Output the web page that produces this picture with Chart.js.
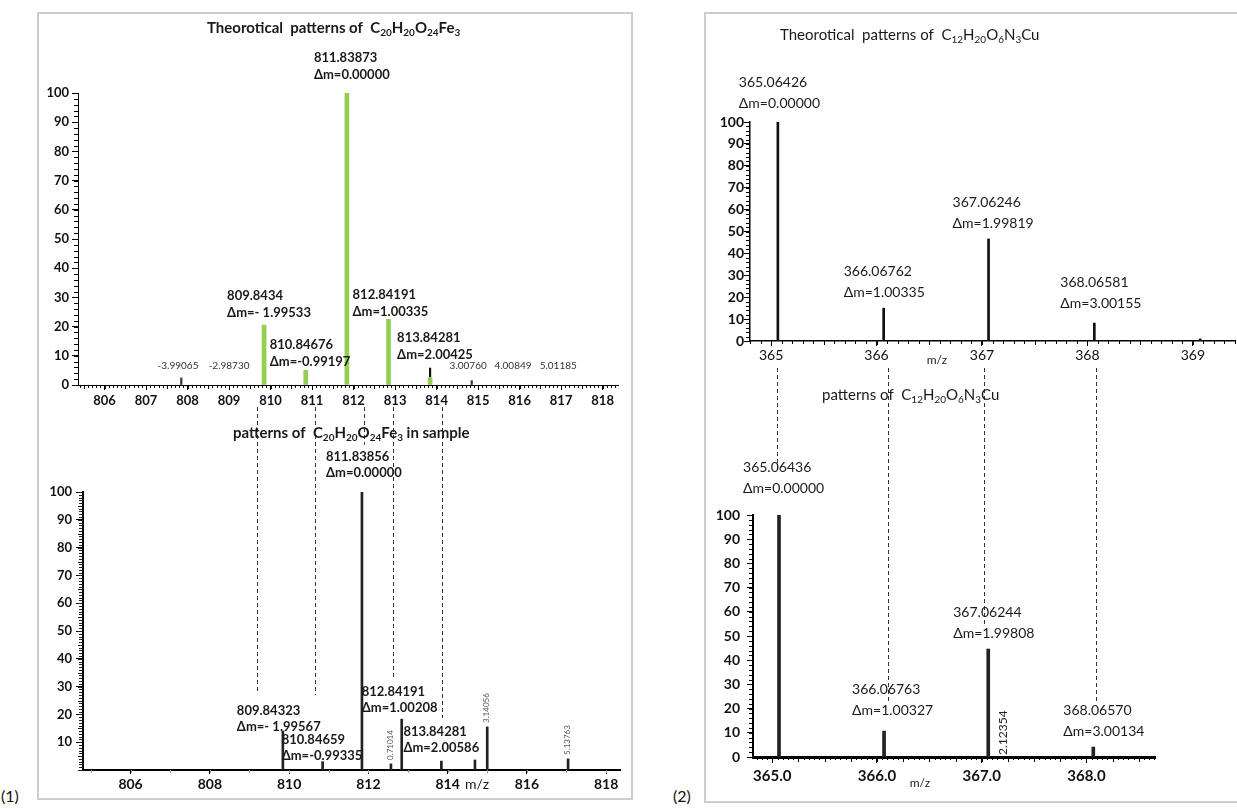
<!DOCTYPE html>
<html>
<head>
<meta charset="utf-8">
<title>Isotope patterns</title>
<script src="https://cdn.jsdelivr.net/npm/chart.js@4.4.1/dist/chart.umd.min.js"></script>
<style>
  body { margin: 0; width: 1237px; height: 809px; overflow: hidden; position: relative; background: #fff; font-family: Lato, 'Open Sans', sans-serif; }
  .frame { position: absolute; border: 2px solid #cdcdcd; box-sizing: border-box; }
  .tag { position: absolute; font-size: 16px; color: #111; }
  canvas { position: absolute; }
</style>
</head>
<body>
<div class="frame" style="left:37px; top:12px; width:596px; height:788px;"></div>
<div class="frame" style="left:704px; top:12px; width:540px; height:791px;"></div>
<div class="tag" style="left:1px; top:786px;">(1)</div>
<div class="tag" style="left:673px; top:786px;">(2)</div>
<canvas id="tl" width="584" height="401" style="left:38px; top:14px;"></canvas>
<canvas id="bl" width="584" height="398" style="left:38px; top:400px;"></canvas>
<canvas id="tr" width="531" height="357" style="left:706px; top:14px;"></canvas>
<canvas id="br" width="531" height="438" style="left:706px; top:362px;"></canvas>
<script>
// (1) theoretical pattern of C20H20O24Fe3
var mzTL = [809.8434, 810.84676, 811.83873, 812.84191, 813.84281];
var intTL = [20.5, 5, 100, 22.5, 2.5];
var massTL = ['809.8434', '810.84676', '811.83873', '812.84191', '813.84281'];
var dmTL = ['Δm=- 1.99533', 'Δm=-0.99197', 'Δm=0.00000', 'Δm=1.00335', 'Δm=2.00425'];
var tinyMzTL = [807.848, 814.846];
var tinyIntTL = [2.4, 1.5];
var markMzTL = [813.84281];
var markIntTL = [[2.7, 5.8]];
// where the small mass-difference notes sit on the m/z axis
var sideAtTL = [807.77, 809.0, 814.76, 815.84, 816.93];
var sideDmTL = ['-3.99065', '-2.98730', '3.00760', '4.00849', '5.01185'];
var xTicksTL = [806, 807, 808, 809, 810, 811, 812, 813, 814, 815, 816, 817, 818];
var yTicksTL = [0, 10, 20, 30, 40, 50, 60, 70, 80, 90, 100];

// (1) pattern found in sample
var mzBL = [809.84323, 810.84659, 811.83856, 812.84191, 813.84281];
var intBL = [14, 3, 100, 18.3, 3.2];
var massBL = ['809.84323', '810.84659', '811.83856', '812.84191', '813.84281'];
var dmBL = ['Δm=- 1.99567', 'Δm=-0.99335', 'Δm=0.00000', 'Δm=1.00208', 'Δm=2.00586'];
var otherMzBL = [812.57, 814.69, 815.0, 817.04];
var otherIntBL = [2.2, 3.6, 15.5, 4];
var otherDmBL = ['0.71014', '', '3.14056', '5.13763'];
var xTicksBL = [806, 808, 810, 812, 814, 816, 818];
var yTicksBL = [10, 20, 30, 40, 50, 60, 70, 80, 90, 100];
var guideMzL = [809.2, 810.65, 811.9, 812.62, 813.86];
var guideEndL = [27.7, 27, 117, 32.4, 18.7];

// (2) theoretical pattern of C12H20O6N3Cu
var mzTR = [365.06426, 366.06762, 367.06246, 368.06581, 369.07];
var intTR = [100, 15, 46.6, 8.2, 1];
var massTR = ['365.06426', '366.06762', '367.06246', '368.06581'];
var dmTR = ['Δm=0.00000', 'Δm=1.00335', 'Δm=1.99819', 'Δm=3.00155'];
var xTicksTR = [365, 366, 367, 368, 369];
var yTicksTR = [0, 10, 20, 30, 40, 50, 60, 70, 80, 90, 100];

// (2) pattern found in sample
var mzBR = [365.06436, 366.06763, 367.06244, 368.0657];
var intBR = [100, 10.7, 44.6, 4.1];
var massBR = ['365.06436', '366.06763', '367.06244', '368.06570'];
var dmBR = ['Δm=0.00000', 'Δm=1.00327', 'Δm=1.99808', 'Δm=3.00134'];
var extraMzBR = [367.2];
var extraDmBR = ['2.12354'];
var xTicksBR = [365, 366, 367, 368];
var yTicksBR = [0, 10, 20, 30, 40, 50, 60, 70, 80, 90, 100];
var guideMzR = [365.045, 366.105, 367.02, 368.09];
var guideEndR = [118.6, 22.3, 54.5, 22.7];

var FONT = "Lato, 'Open Sans', sans-serif";

// label placement: [offset from peak in px, page y of first line]
var posTL = [[-37, 296], [-36, 345], [-33, 58], [-36, 295], [-33, 338]];
var posBL = [[-46, 711], [-41, 740], [-36, 457], [-40, 692], [-38, 732]];
var posTR = [[-39, 82], [-40, 271], [-36, 202], [-34, 282]];
var posBR = [[-36, 467], [-32, 689], [-35, 612], [-30, 710]];

function pts(xs, ys) {
  return xs.map(function (x, i) { return { x: x, y: ys[i] }; });
}

// draws text with {..} parts as subscripts
function drawSub(ctx, text, x, y, size, weight) {
  var parts = text.split(/(\{[^}]*\})/);
  var cx = x;
  ctx.textBaseline = 'middle';
  ctx.textAlign = 'left';
  parts.forEach(function (p) {
    if (!p) return;
    var sub = p[0] === '{';
    var t = sub ? p.slice(1, -1) : p;
    ctx.font = weight + ' ' + (sub ? Math.round(size * 0.68) : size) + 'px ' + FONT;
    ctx.fillText(t, cx, sub ? y + size * 0.3 : y);
    cx += ctx.measureText(t).width;
  });
  return cx;
}

// short ticks between the labelled ones
var minorTicks = {
  id: 'minorTicks',
  afterDraw: function (chart, args, o) {
    var ctx = chart.ctx, a = chart.chartArea;
    ctx.save();
    ctx.lineWidth = 1;
    ['x', 'y'].forEach(function (k) {
      var m = o[k];
      if (!m) return;
      var s = chart.scales[k];
      ctx.strokeStyle = m.color || '#000';
      var n0 = Math.ceil(s.min / m.step - 1e-6), n1 = Math.floor(s.max / m.step + 1e-6);
      for (var n = n0; n <= n1; n++) {
        var v = n * m.step;
        var len = m.len;
        if (m.mid && Math.abs(v / m.mid - Math.round(v / m.mid)) < 1e-6) len = m.midLen;
        var p = Math.round(s.getPixelForValue(v)) + 0.5;
        ctx.beginPath();
        if (k === 'x') { ctx.moveTo(p, a.bottom); ctx.lineTo(p, a.bottom + len); }
        else { ctx.moveTo(a.left, p); ctx.lineTo(a.left - len, p); }
        ctx.stroke();
      }
    });
    ctx.restore();
  }
};

// titles, peak labels and dashed guides
var notes = {
  id: 'notes',
  afterDatasetsDraw: function (chart, args, o) {
    var ctx = chart.ctx, xs = chart.scales.x, ys = chart.scales.y;
    var L = o.left, T = o.top;
    ctx.save();
    ctx.fillStyle = '#1a1a1a';
    if (o.guides) {
      ctx.strokeStyle = '#333';
      ctx.lineWidth = 1;
      ctx.setLineDash([4, 3]);
      o.guides.mz.forEach(function (m, i) {
        var x = Math.round(xs.getPixelForValue(m)) + 0.5;
        ctx.beginPath();
        ctx.moveTo(x, o.guides.from - T);
        ctx.lineTo(x, ys.getPixelForValue(o.guides.end[i]));
        ctx.stroke();
      });
      ctx.setLineDash([]);
    }
    if (o.title) drawSub(ctx, o.title.text, o.title.x - L, o.title.y - T, o.title.size, o.title.weight);
    if (o.axisName) {
      ctx.font = o.axisName.size + 'px ' + FONT;
      ctx.textAlign = 'center';
      ctx.textBaseline = 'middle';
      ctx.fillText('m/z', o.axisName.x - L, o.axisName.y - T);
    }
    var pk = o.peaks;
    ctx.textAlign = 'left';
    ctx.textBaseline = 'middle';
    ctx.font = pk.weight + ' ' + pk.size + 'px ' + FONT;
    pk.mass.forEach(function (t, i) {
      var x = xs.getPixelForValue(pk.mz[i]) + pk.pos[i][0];
      var y = pk.pos[i][1] - T;
      ctx.fillText(t, x, y);
      ctx.fillText(pk.dm[i], x, y + pk.gap);
    });
    if (o.side) {
      ctx.font = o.side.size + 'px ' + FONT;
      ctx.fillStyle = '#333';
      ctx.textAlign = 'center';
      o.side.mz.forEach(function (m, i) {
        ctx.fillText(o.side.text[i], xs.getPixelForValue(m), o.side.y - T);
      });
    }
    if (o.vert) {
      ctx.font = o.vert.size + 'px ' + FONT;
      ctx.fillStyle = o.vert.color;
      ctx.textAlign = 'left';
      ctx.textBaseline = 'middle';
      o.vert.mz.forEach(function (m, i) {
        if (!o.vert.text[i]) return;
        var base = o.vert.above ? ys.getPixelForValue(o.vert.val[i]) - 4 : ys.getPixelForValue(0) - 2;
        ctx.save();
        ctx.translate(xs.getPixelForValue(m) + o.vert.dx, base);
        ctx.rotate(-Math.PI / 2);
        ctx.fillText(o.vert.text[i], 0, 0);
        ctx.restore();
      });
    }
    ctx.restore();
  }
};

function fitAxis(w, h) {
  return function (axis) {
    if (w != null) axis.width = w;
    if (h != null) axis.height = h;
    axis.paddingTop = 0; axis.paddingBottom = 0;
    axis.paddingLeft = 0; axis.paddingRight = 0;
  };
}

function setTicks(list) {
  return function (axis) {
    axis.ticks = list.map(function (v) { return { value: v }; });
  };
}

function spectrum(id, c) {
  return new Chart(document.getElementById(id), {
    type: 'bar',
    data: { datasets: c.datasets },
    options: {
      responsive: false,
      animation: false,
      devicePixelRatio: 1,
      layout: { padding: { top: c.padTop, right: c.padRight, left: 0, bottom: 0 } },
      datasets: { bar: { grouped: false } },
      plugins: {
        legend: { display: false },
        tooltip: { enabled: false },
        minorTicks: c.minor,
        notes: c.notes
      },
      scales: {
        x: {
          type: 'linear', min: c.xMin, max: c.xMax, offset: false,
          grid: { drawOnChartArea: false, drawTicks: true, tickLength: c.xTickLen, color: '#000', offset: false },
          border: { color: '#000', width: c.xBorder },
          ticks: {
            autoSkip: false, maxRotation: 0, padding: c.xPad, color: '#111',
            font: { family: FONT, size: c.xFont, weight: c.xWeight },
            callback: c.xLabel || function (v) { return v; }
          },
          afterBuildTicks: setTicks(c.xTicks),
          afterFit: fitAxis(null, c.xAxisH)
        },
        y: {
          min: 0, max: 100,
          grid: { drawOnChartArea: false, drawTicks: true, tickLength: c.yTickLen, color: '#000' },
          border: { color: '#000', width: c.yBorder },
          ticks: {
            padding: c.yPad, color: '#111',
            font: { family: FONT, size: c.yFont, weight: c.yWeight }
          },
          afterBuildTicks: setTicks(c.yTicks),
          afterFit: fitAxis(c.yAxisW, null)
        }
      }
    },
    plugins: [minorTicks, notes]
  });
}

// (1) top
spectrum('tl', {
  padTop: 79, padRight: 4, yAxisW: 40, xAxisH: 30,
  xMin: 805.36, xMax: 818.37, xTicks: xTicksTL, yTicks: yTicksTL,
  xTickLen: 5, yTickLen: 6, xPad: 3, yPad: 3, xBorder: 1, yBorder: 1,
  xFont: 13, yFont: 13, xWeight: 'bold', yWeight: 'bold',
  minor: { x: { step: 0.1, len: 3, mid: 0.5, midLen: 4 }, y: { step: 2, len: 4 } },
  datasets: [
    { data: pts(mzTL, intTL), backgroundColor: '#92d050', barThickness: 4 },
    { data: pts(tinyMzTL, tinyIntTL), backgroundColor: '#333', barThickness: 1.5 },
    { data: pts(markMzTL, markIntTL), backgroundColor: '#111', barThickness: 1.5 }
  ],
  notes: {
    left: 38, top: 14,
    title: { text: 'Theorotical  patterns of  C{20}H{20}O{24}Fe{3}', x: 207, y: 28, size: 15, weight: 'bold' },
    peaks: { mz: mzTL, mass: massTL, dm: dmTL, pos: posTL, size: 13, weight: 'bold', gap: 17 },
    side: { mz: sideAtTL, text: sideDmTL, y: 366, size: 10 }
  }
});

// (1) bottom
spectrum('bl', {
  padTop: 92, padRight: 2, yAxisW: 45, xAxisH: 28,
  xMin: 804.8, xMax: 818.35, xTicks: xTicksBL, yTicks: yTicksBL,
  xTickLen: 4, yTickLen: 7, xPad: 2, yPad: 4, xBorder: 2, yBorder: 2,
  xFont: 14, yFont: 13, xWeight: 'bold', yWeight: 'bold',
  minor: { x: { step: 1, len: 3, color: '#999' }, y: { step: 1, len: 4, mid: 5, midLen: 5, color: '#222' } },
  datasets: [
    { data: pts(mzBL, intBL), backgroundColor: '#222', barThickness: 2 },
    { data: pts(otherMzBL, otherIntBL), backgroundColor: '#222', barThickness: 2 }
  ],
  notes: {
    left: 38, top: 400,
    title: { text: 'patterns of  C{20}H{20}O{24}Fe{3} in sample', x: 233, y: 433, size: 15, weight: 'bold' },
    axisName: { x: 477, y: 784, size: 14 },
    guides: { mz: guideMzL, end: guideEndL, from: 407 },
    peaks: { mz: mzBL, mass: massBL, dm: dmBL, pos: posBL, size: 13, weight: 'bold', gap: 16 },
    vert: { mz: otherMzBL, text: otherDmBL, val: otherIntBL, above: true, dx: -1, size: 8, color: '#555' }
  }
});

// (2) top
spectrum('tr', {
  padTop: 108, padRight: 2, yAxisW: 44, xAxisH: 30,
  xMin: 364.80, xMax: 369.40, xTicks: xTicksTR, yTicks: yTicksTR,
  xTickLen: 5, yTickLen: 6, xPad: 1, yPad: 0, xBorder: 1.5, yBorder: 1.5,
  xFont: 14, yFont: 14, xWeight: 'normal', yWeight: 'bold',
  minor: { x: { step: 0.1, len: 3, mid: 0.5, midLen: 4 }, y: { step: 2, len: 4 } },
  datasets: [
    { data: pts(mzTR, intTR), backgroundColor: '#111', barThickness: 2 }
  ],
  notes: {
    left: 706, top: 14,
    title: { text: 'Theorotical  patterns of  C{12}H{20}O{6}N{3}Cu', x: 780, y: 35, size: 15, weight: 'normal' },
    axisName: { x: 937, y: 360, size: 12 },
    peaks: { mz: mzTR, mass: massTR, dm: dmTR, pos: posTR, size: 14, weight: 'normal', gap: 21 }
  }
});

// (2) bottom
spectrum('br', {
  padTop: 153, padRight: 82, yAxisW: 47, xAxisH: 43,
  xMin: 364.816, xMax: 368.655, xTicks: xTicksBR, yTicks: yTicksBR,
  xTickLen: 6, yTickLen: 6, xPad: 4, yPad: 7, xBorder: 3, yBorder: 2,
  xFont: 15, yFont: 14, xWeight: 'bold', yWeight: 'bold',
  xLabel: function (v) { return v.toFixed(1); },
  minor: { x: { step: 0.05, len: 3, mid: 0.25, midLen: 5 }, y: { step: 2, len: 4 } },
  datasets: [
    { data: pts(mzBR, intBR), backgroundColor: '#222', barThickness: 3 }
  ],
  notes: {
    left: 706, top: 362,
    title: { text: 'patterns of  C{12}H{20}O{6}N{3}Cu', x: 822, y: 395, size: 15, weight: 'normal' },
    axisName: { x: 920, y: 783, size: 12 },
    guides: { mz: guideMzR, end: guideEndR, from: 368 },
    peaks: { mz: mzBR, mass: massBR, dm: dmBR, pos: posBR, size: 14, weight: 'normal', gap: 21 },
    vert: { mz: extraMzBR, text: extraDmBR, above: false, dx: 0, size: 12, color: '#222' }
  }
});
</script>
</body>
</html>
